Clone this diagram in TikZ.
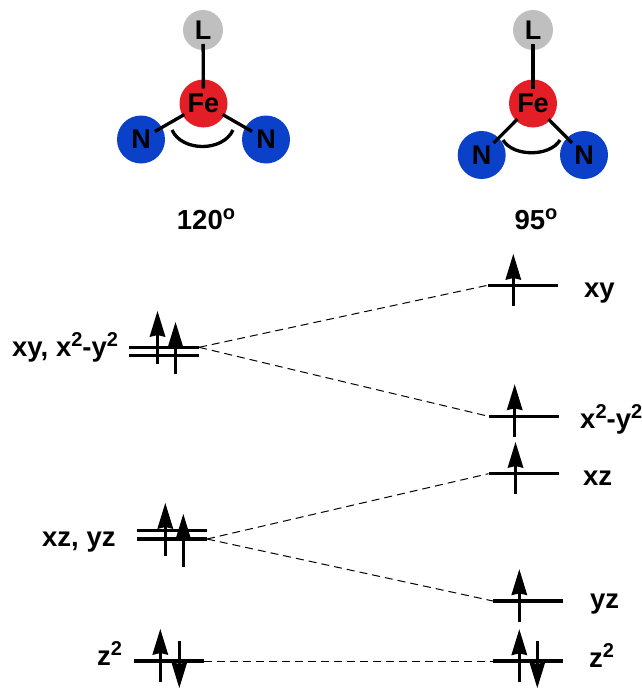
\documentclass[tikz,border=0pt]{standalone}
\usepackage{fontspec}
\setmainfont{Liberation Sans}
\usetikzlibrary{arrows.meta}
\definecolor{ironred}{HTML}{E31E26}
\definecolor{nitrogenblue}{HTML}{0B41C8}
\definecolor{ligandgray}{HTML}{BFBFBF}
\newcommand{\supsm}[1]{\raisebox{10pt}{\fontsize{20}{20}\selectfont #1}}

\begin{document}
\begin{tikzpicture}[
  x={(1pt,0pt)},
  y={(0pt,-1pt)},
  line cap=butt,
  atomtext/.style={font=\fontsize{27}{27}\selectfont\bfseries,text=black,inner sep=0pt,shape=circle},
  ironatom/.style={atomtext,fill=ironred,minimum size=48pt},
  nitrogen/.style={atomtext,fill=nitrogenblue,minimum size=48pt},
  ligand/.style={atomtext,fill=ligandgray,minimum size=40pt},
  bond/.style={draw=black,line width=3.3pt},
  level/.style={draw=black,line width=3.3pt},
  spin/.style={draw=black,line width=3.3pt,-{Stealth[length=26pt,width=16pt,inset=2pt,line width=0pt]}},
  link/.style={draw=black,line width=1pt,dash pattern=on 8pt off 5pt},
  label/.style={font=\fontsize{27.5}{27.5}\selectfont\bfseries,inner sep=0pt,anchor=base west}
]
  \useasboundingbox (0,0) rectangle (641,688);

  % Geometry with the wide angle.
  \node[ligand] (La) at (203,30) {L};
  \node[ironatom] (Fea) at (203.5,103.5) {Fe};
  \node[nitrogen] (Na) at (141,139.5) {N};
  \node[nitrogen] (Nb) at (266,139.5) {N};
  \draw[bond,shorten <=14pt,shorten >=15pt] (La.center) -- (Fea.center);
  \draw[bond,shorten <=16pt,shorten >=22pt] (Na.center) -- (Fea.center);
  \draw[bond,shorten <=16pt,shorten >=22pt] (Nb.center) -- (Fea.center);
  \draw[bond] (172,130) .. controls (182,152) and (223,152) .. (233,130);
  \node[label,anchor=base] (anglea) at (206,229) {120\supsm{o}};

  % Geometry with the narrow angle.
  \node[ligand] (Lb) at (533,30) {L};
  \node[ironatom] (Feb) at (533,103.5) {Fe};
  \node[nitrogen] (Nc) at (481.7,155) {N};
  \node[nitrogen] (Nd) at (584,155) {N};
  \draw[bond,shorten <=14pt,shorten >=15pt] (Lb.center) -- (Feb.center);
  \draw[bond,shorten <=17pt,shorten >=22pt] (Nc.center) -- (Feb.center);
  \draw[bond,shorten <=17pt,shorten >=22pt] (Nd.center) -- (Feb.center);
  \draw[bond] (503,140) .. controls (513,157) and (550,157) .. (560,140);
  \node[label,anchor=base] (angleb) at (536,229) {95\supsm{o}};

  % Left levels.
  \coordinate (lxyW) at (129,347.3);
  \coordinate (lxyE) at (199,347.3);
  \coordinate (lxW) at (129,355.7);
  \coordinate (lxE) at (199,355.7);
  \coordinate (lxzW) at (137,530.7);
  \coordinate (lxzE) at (207,530.7);
  \coordinate (lyzW) at (137,539);
  \coordinate (lyzE) at (207,539);
  \coordinate (lzW) at (134,661);
  \coordinate (lzE) at (204,661);

  % Right levels.
  \coordinate (rxyW) at (487.5,285.3);
  \coordinate (rxyE) at (557.5,285.3);
  \coordinate (rxW) at (488.5,416.3);
  \coordinate (rxE) at (558.5,416.3);
  \coordinate (rxzW) at (488.5,473.7);
  \coordinate (rxzE) at (558.5,473.7);
  \coordinate (ryzW) at (493,601);
  \coordinate (ryzE) at (563,601);
  \coordinate (rzW) at (493,661);
  \coordinate (rzE) at (563,661);

  \foreach \p in {lxy,lx,lxz,lyz,lz,rxy,rx,rxz,ryz,rz} {
    \draw[level] (\p W) -- (\p E);
  }

  % Correlation lines.
  \draw[link] (lxyE) -- (rxyW);
  \draw[link] (lxyE) -- (rxW);
  \draw[link] (lyzE) -- (rxzW);
  \draw[link] (lyzE) -- (ryzW);
  \draw[link] (lzE) -- (rzW);

  % Electrons: x / tail / tip.
  \foreach \x/\a/\b in {157.5/363.5/311,175.5/374/322,165.3/555.7/503,183.3/566.7/514,
                        160.3/681.7/629,179.3/641/688,513.3/305.7/254,514.7/436.7/384.3,
                        515.5/494/442,519.3/621.7/569.3,519.3/681.7/629.3,537.3/641/688} {
    \draw[spin] (\x,\a) -- (\x,\b);
  }

  % Orbital labels.
  \node[label] (txyL) at (12,356.7) {xy, x\supsm{2}-y\supsm{2}};
  \node[label] (txzL) at (42,546.7) {xz, yz};
  \node[label] (tzL) at (97,665.7) {z\supsm{2}};
  \node[label] (txyR) at (584,297.3) {xy};
  \node[label] (txR) at (580,428) {x\supsm{2}-y\supsm{2}};
  \node[label] (txzR) at (583,485) {xz};
  \node[label] (tyzR) at (590,608) {yz};
  \node[label] (tzR) at (589,667.7) {z\supsm{2}};
\end{tikzpicture}
\end{document}
